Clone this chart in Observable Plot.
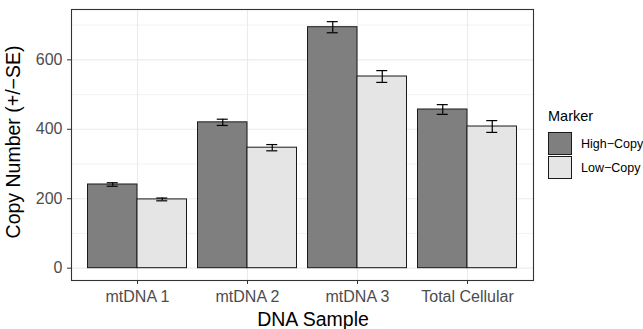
<!DOCTYPE html>
<html>
<head>
<meta charset="utf-8">
<script src="https://cdn.jsdelivr.net/npm/d3@7"></script>
<script src="https://cdn.jsdelivr.net/npm/@observablehq/plot@0.6"></script>
<style>
  body { margin: 0; background: #fff; font-family: "Liberation Sans", Arial, sans-serif; }
  #wrap { position: relative; width: 643px; height: 329px; }
  .title { position: absolute; white-space: nowrap; color: #000; font-size: 19.5px; line-height: 1; }
  #legend { position: absolute; left: 548px; top: 109px; color: #000; }
  #legend .lt { font-size: 14.5px; line-height: 1; margin-bottom: 8px; }
  #legend .row { display: flex; align-items: center; height: 24px; }
  #legend .sw { width: 22px; height: 21px; border: 1px solid #1a1a1a; box-sizing: content-box; margin-right: 9px; }
  #legend .lab { font-size: 12.5px; }
  svg g[aria-label="x-axis tick"] path, svg g[aria-label="y-axis tick"] path { stroke: #333; }
</style>
</head>
<body>
<div id="wrap"></div>
<script>
const categories = ["mtDNA 1", "mtDNA 2", "mtDNA 3", "Total Cellular"];
const markers = ["High\u2212Copy", "Low\u2212Copy"];
const highValues = [241, 420, 694, 457];
const highSE = [5, 9, 16, 14];
const lowValues = [198, 347, 552, 408];
const lowSE = [4, 9, 17, 17];
const yTicks = [0, 200, 400, 600];
const yMinor = [100, 300, 500, 700];
const fills = ["#7f7f7f", "#e5e5e5"];

const rows = [];
categories.forEach((c, i) => {
  rows.push({cat: c, idx: i + 1, marker: markers[0], side: 0, value: highValues[i], se: highSE[i]});
  rows.push({cat: c, idx: i + 1, marker: markers[1], side: 1, value: lowValues[i], se: lowSE[i]});
});
const bw = 0.45;
const x1 = d => d.idx - bw + d.side * bw;
const xc = d => x1(d) + bw / 2;

const chart = Plot.plot({
  width: 643,
  height: 329,
  marginLeft: 71,
  marginRight: 110,
  marginTop: 9,
  marginBottom: 49,
  style: { fontFamily: "Liberation Sans, Arial, sans-serif", fontSize: "16px", color: "#4d4d4d", background: "#fff" },
  x: { domain: [0.4, 4.6], ticks: [1, 2, 3, 4], tickFormat: i => categories[i - 1], tickSize: 4, tickPadding: 6, label: null },
  y: { domain: [-35.5, 745], ticks: yTicks, tickSize: 4, tickPadding: 5, label: null },
  color: { domain: markers, range: fills },
  marks: [
    Plot.ruleY(yMinor, { stroke: "#ebebeb", strokeWidth: 0.6 }),
    Plot.ruleY(yTicks, { stroke: "#ebebeb", strokeWidth: 1.1 }),
    Plot.ruleX([1, 2, 3, 4], { stroke: "#ebebeb", strokeWidth: 1.1 }),
    Plot.rect(rows, { x1: x1, x2: d => x1(d) + bw, y1: 0, y2: "value", fill: "marker", stroke: "#1a1a1a", strokeWidth: 1 }),
    Plot.ruleX(rows, { x: xc, y1: d => d.value - d.se, y2: d => d.value + d.se, stroke: "#000", strokeWidth: 1.2 }),
    Plot.ruleY(rows, { y: d => d.value + d.se, x1: d => xc(d) - 0.05, x2: d => xc(d) + 0.05, stroke: "#000", strokeWidth: 1.2 }),
    Plot.ruleY(rows, { y: d => d.value - d.se, x1: d => xc(d) - 0.05, x2: d => xc(d) + 0.05, stroke: "#000", strokeWidth: 1.2 }),
    Plot.frame({ stroke: "#333", strokeWidth: 1.1 })
  ]
});
const wrap = document.getElementById("wrap");
wrap.appendChild(chart);

const yt = document.createElement("div");
yt.className = "title";
yt.textContent = "Copy Number (+/\u2212SE)";
yt.style.left = "14px"; yt.style.top = "142px";
yt.style.transform = "translate(-50%,-50%) rotate(-90deg)";
wrap.appendChild(yt);

const xt = document.createElement("div");
xt.className = "title";
xt.textContent = "DNA Sample";
xt.style.left = "313px"; xt.style.top = "320px";
xt.style.transform = "translate(-50%,-50%)";
wrap.appendChild(xt);

const lg = document.createElement("div");
lg.id = "legend";
let html = '<div class="lt">Marker</div>';
markers.forEach((m, i) => {
  html += `<div class="row"><div class="sw" style="background:${fills[i]}"></div><div class="lab">${m}</div></div>`;
});
lg.innerHTML = html;
wrap.appendChild(lg);
</script>
</body>
</html>
